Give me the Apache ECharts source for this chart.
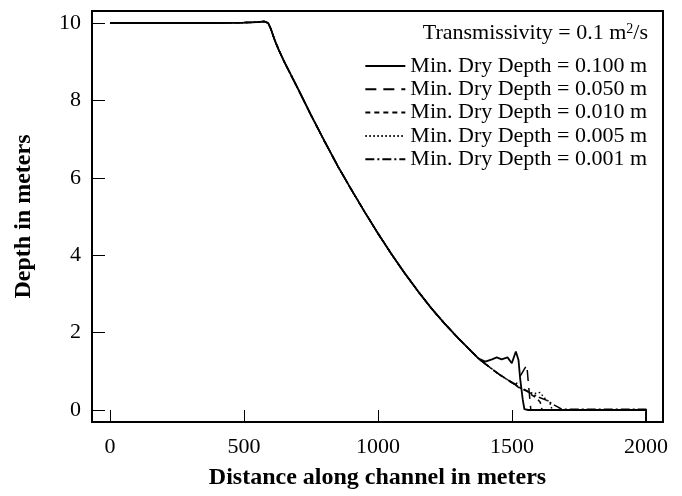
<!DOCTYPE html>
<html>
<head>
<meta charset="utf-8">
<script src="https://cdn.jsdelivr.net/npm/echarts@6/dist/echarts.min.js"></script>
<style>html,body{margin:0;padding:0;background:#fff}#c{width:682px;height:496px}</style>
</head>
<body>
<div id="c"></div>
<script>
// shared profile (all runs coincide up to ~1375 m)
const mainX = [0, 100, 200, 300, 400, 500, 550, 575, 590, 600, 615, 630, 650, 700, 750, 800, 850, 900, 950, 1000, 1050, 1100, 1150, 1200, 1250, 1300, 1350, 1375];
const mainY = [10, 10, 10, 10, 10, 10.01, 10.02, 10.04, 10.0, 9.85, 9.55, 9.3, 9.0, 8.32, 7.62, 6.95, 6.3, 5.7, 5.12, 4.56, 4.03, 3.53, 3.06, 2.62, 2.22, 1.85, 1.5, 1.33];

// tails of each run
const tail100X = [1400, 1425, 1443, 1461, 1483, 1499, 1514, 1524, 1530, 1540, 1546, 1560, 2000, 2000];
const tail100Y = [1.25, 1.31, 1.36, 1.31, 1.36, 1.21, 1.51, 1.29, 0.82, 0.26, 0.02, 0.0, 0.0, -1];
const tail050X = [1400, 1430, 1460, 1490, 1515, 1528, 1545, 1555, 1562, 1570, 2000, 2000];
const tail050Y = [1.19, 1.03, 0.88, 0.75, 0.66, 0.85, 1.05, 1.16, 0.6, 0.0, 0.0, -1];
const tail010X = [1400, 1450, 1500, 1525, 1540, 1555, 1567, 1592, 1605, 1612, 2000, 2000];
const tail010Y = [1.19, 0.93, 0.71, 0.58, 0.55, 0.5, 0.42, 0.3, 0.2, 0.0, 0.0, -1];
const tail005X = [1400, 1450, 1500, 1550, 1580, 1604, 1623, 1640, 1650, 2000, 2000];
const tail005Y = [1.19, 0.93, 0.7, 0.5, 0.42, 0.45, 0.3, 0.2, 0.0, 0.0, -1];
const tail001X = [1400, 1450, 1500, 1550, 1600, 1630, 1654, 1670, 1685, 2000, 2000];
const tail001Y = [1.19, 0.93, 0.7, 0.5, 0.33, 0.25, 0.14, 0.08, 0.02, 0.02, -1];

const seriesNames = ['Min. Dry Depth = 0.100 m', 'Min. Dry Depth = 0.050 m', 'Min. Dry Depth = 0.010 m', 'Min. Dry Depth = 0.005 m', 'Min. Dry Depth = 0.001 m'];
const xTicks = [0, 500, 1000, 1500, 2000];
const yTicks = [0, 2, 4, 6, 8, 10];

function build(tx, ty) {
  const pts = mainX.map((x, i) => [x, mainY[i]]);
  tx.forEach((x, i) => pts.push([x, ty[i]]));
  return pts;
}
const tails = [[tail100X, tail100Y], [tail050X, tail050Y], [tail010X, tail010Y], [tail005X, tail005Y], [tail001X, tail001Y]];
const dashTypes = ['solid', [11, 7], [5, 4], [1.5, 2.5], [9, 3, 2, 3]];
const widths = [1.8, 1.5, 1.5, 1.5, 1.5];

const FONT = '"Liberation Serif", "DejaVu Serif", serif';
const chart = echarts.init(document.getElementById('c'), null, {renderer: 'canvas'});
chart.setOption({
  animation: false,
  backgroundColor: '#fff',
  title: {
    text: 'Transmissivity = 0.1 m{sup|2}/s',
    right: 29, top: 17,
    textStyle: {fontFamily: FONT, fontSize: 22, fontWeight: 'normal', color: '#000',
      rich: {sup: {fontFamily: FONT, fontSize: 14, verticalAlign: 'top', padding: [0, 0, 9, 0], color: '#000'}}}
  },
  legend: {
    orient: 'vertical', right: 30, top: 50,
    itemWidth: 40, itemHeight: 10, itemGap: 1.3,
    itemStyle: {opacity: 0},
    textStyle: {fontFamily: FONT, fontSize: 22, lineHeight: 22, color: '#000'},
    data: seriesNames
  },
  grid: {left: 92, right: 19, top: 11, bottom: 74, show: true, borderColor: '#000', borderWidth: 2},
  xAxis: {
    type: 'value', min: -67, max: 2063,
    name: 'Distance along channel in meters', nameLocation: 'middle', nameGap: 44,
    nameTextStyle: {fontFamily: FONT, fontSize: 24, fontWeight: 'bold', color: '#000'},
    axisLine: {show: true, onZero: false, lineStyle: {color: '#000', width: 2}},
    axisTick: {show: true, inside: true, length: 12, customValues: xTicks, lineStyle: {color: '#000', width: 1}},
    axisLabel: {customValues: xTicks, formatter: v => String(v), fontFamily: FONT, fontSize: 22, color: '#000', margin: 14},
    splitLine: {show: false}
  },
  yAxis: {
    type: 'value', min: -0.31, max: 10.31,
    name: 'Depth in meters', nameLocation: 'middle', nameGap: 56, nameRotate: 90,
    nameTextStyle: {fontFamily: FONT, fontSize: 24, fontWeight: 'bold', color: '#000'},
    axisLine: {show: true, onZero: false, lineStyle: {color: '#000', width: 2}},
    axisTick: {show: true, inside: true, length: 13, customValues: yTicks, lineStyle: {color: '#000', width: 1}},
    axisLabel: {customValues: yTicks, formatter: v => String(v), fontFamily: FONT, fontSize: 22, color: '#000', margin: 11},
    splitLine: {show: false}
  },
  series: seriesNames.map((n, i) => ({
    name: n, type: 'line', showSymbol: false, symbol: 'none', clip: true,
    data: build(tails[i][0], tails[i][1]),
    lineStyle: {color: '#000', width: widths[i], type: dashTypes[i]},
    itemStyle: {color: '#000'},
    z: 10 - i
  }))
});
</script>
</body>
</html>
